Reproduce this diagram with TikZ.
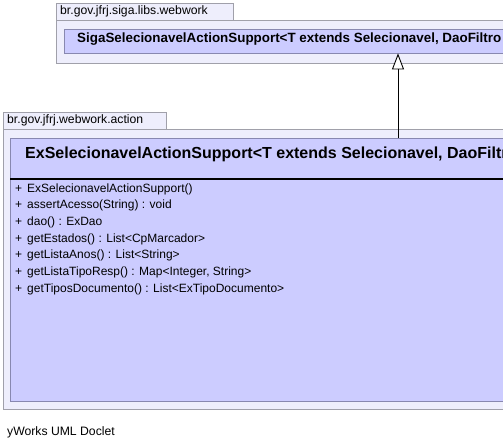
\documentclass[tikz,border=0pt]{standalone}
\usepackage{fontspec}
\setmainfont{Liberation Sans}
\usetikzlibrary{positioning,arrows.meta}
\definecolor{pkgfill}{RGB}{238,238,252}
\definecolor{pkgdraw}{RGB}{160,160,170}
\definecolor{clsfill}{RGB}{204,204,255}
\definecolor{clsdraw}{RGB}{136,136,176}
\begin{document}
\begin{tikzpicture}[x=1pt, y=-1pt, every node/.style={font=\fontsize{12.2}{14}\selectfont, inner sep=0pt},
    pkg/.style={draw=pkgdraw, fill=pkgfill, anchor=north west},
    pkgtab/.style={draw=pkgdraw, fill=pkgfill, anchor=south west, text width=#1, align=left, inner xsep=4pt, minimum height=17pt},
    cls/.style={draw=clsdraw, fill=clsfill, anchor=north west},
    clsname/.style={anchor=base west, font=\fontsize{#1}{#1}\selectfont\bfseries},
    method/.style={anchor=base west, font=\fontsize{12}{14}\selectfont},
    realize/.style={-{Triangle[open, length=16pt, width=12pt, fill=white]}, line width=0.9pt}]
    \useasboundingbox (0,0) rectangle (503,447);
    \clip (0,0) rectangle (503,447);
    \node[pkg, minimum width=480pt, minimum height=43pt] (sigaPkg) at (56,20) {};
    \node[pkgtab=169pt] (sigaTab) at (sigaPkg.north west) {br.gov.jfrj.siga.libs.webwork};
    \node[cls, minimum width=470pt, minimum height=24pt] (sigaClass) at (64,29) {};
    \node[clsname=13.4] (sigaName) at (77,42) {SigaSelecionavelActionSupport<T extends Selecionavel, DaoFiltro};
    \node[pkg, minimum width=530pt, minimum height=280pt] (exPkg) at (3,129) {};
    \node[pkgtab=155pt] (exTab) at (exPkg.north west) {br.gov.jfrj.webwork.action};
    \node[cls, minimum width=520pt, minimum height=263pt] (exClass) at (10,138) {};
    \node[clsname=16] (exName) at (25,158.5) {ExSelecionavelActionSupport<T extends Selecionavel, DaoFiltro};
    \coordinate (sep) at (0,178.5);
    \draw[line width=2pt] (exClass.west |- sep) -- (exClass.east |- sep);
    \foreach \m [count=\i] in {{ExSelecionavelActionSupport()}, {assertAcesso(String) : void}, {dao() : ExDao},
        {getEstados() : List<CpMarcador>}, {getListaAnos() : List<String>},
        {getListaTipoResp() : Map<Integer, String>}, {getTiposDocumento() : List<ExTipoDocumento>}}
      \node[method] (m\i) at (15, 175.3+\i*16.7) {\makebox[12pt][l]{+}\m};
    \coordinate (arrowx) at (398,0);
    \draw[realize] (exClass.north -| arrowx) -- (sigaClass.south -| arrowx);
    \node[anchor=base west] (doclet) at (7,435) {yWorks UML Doclet};
\end{tikzpicture}
\end{document}
